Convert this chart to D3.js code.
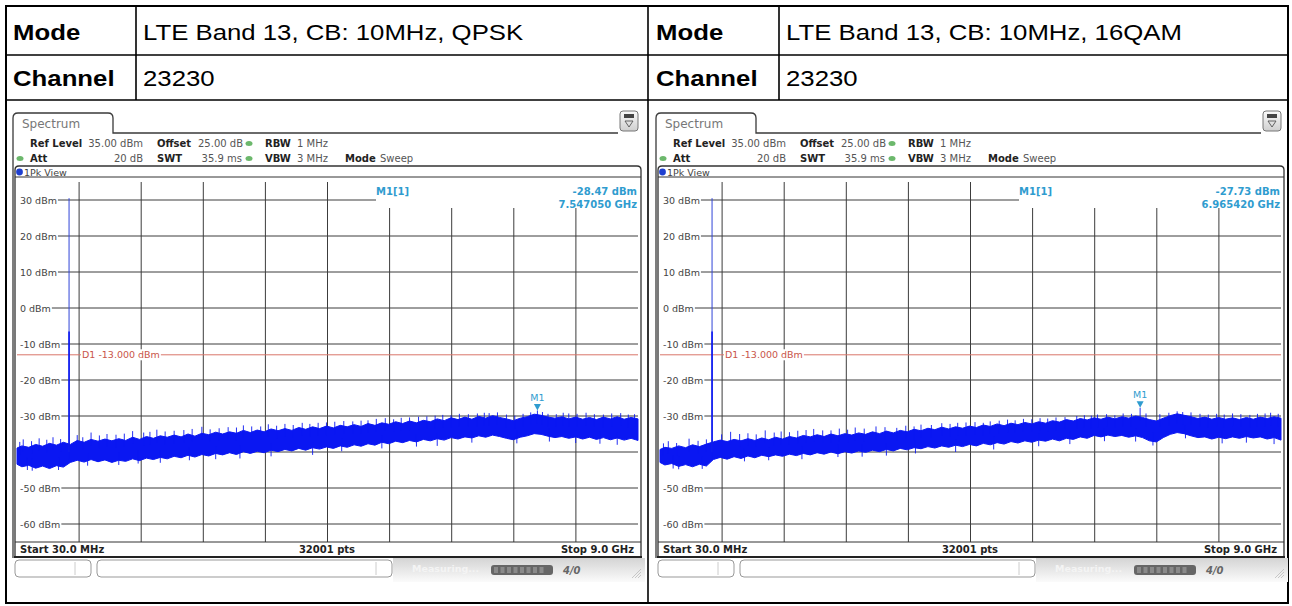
<!DOCTYPE html>
<html>
<head>
<meta charset="utf-8">
<script src="https://cdn.jsdelivr.net/npm/d3@7"></script>
<style>
body { margin: 0; background: #fff; }
svg { display: block; }
</style>
</head>
<body>
<div class="chart"></div>
<script>
const w = 1292;
const h = 606;

// table text
const rowLabels = ["Mode", "Channel"];
const leftValues = ["LTE Band 13, CB: 10MHz, QPSK", "23230"];
const rightValues = ["LTE Band 13, CB: 10MHz, 16QAM", "23230"];

// axis
const yTicks = [30, 20, 10, 0, -10, -20, -30, -40, -50, -60];
const limitLine = -13;

// trace envelope (GHz / dBm)
const freqs = [0.03, 0.1, 0.2, 0.3, 0.4, 0.5, 0.6, 0.7, 0.8, 0.9, 1.0, 1.1, 1.2, 1.3, 1.4, 1.5,
  1.6, 1.7, 1.8, 1.9, 2.0, 2.1, 2.2, 2.3, 2.4, 2.5, 2.6, 2.7, 2.8, 2.9, 3.0, 3.1, 3.2, 3.3, 3.4,
  3.5, 3.6, 3.7, 3.8, 3.9, 4.0, 4.1, 4.2, 4.3, 4.4, 4.5, 4.6, 4.7, 4.8, 4.9, 5.0, 5.1, 5.2, 5.3,
  5.4, 5.5, 5.6, 5.7, 5.8, 5.9, 6.0, 6.1, 6.2, 6.3, 6.4, 6.5, 6.6, 6.7, 6.8, 6.9, 7.0, 7.1, 7.2,
  7.3, 7.4, 7.5, 7.6, 7.7, 7.8, 7.9, 8.0, 8.1, 8.2, 8.3, 8.4, 8.5, 8.6, 8.7, 8.8, 8.9, 9.0];

const qpskUpper = [-38.9, -38.3, -38.7, -37.9, -38.4, -37.6, -38.1, -37.3, -37.9, -36.8, -37.3,
  -36.5, -37.0, -36.4, -36.9, -36.3, -36.8, -35.9, -36.5, -35.7, -36.2, -35.5, -35.9, -35.3,
  -35.8, -35.0, -35.6, -34.8, -35.2, -34.5, -35.0, -34.4, -34.8, -34.0, -34.6, -33.9, -34.4,
  -33.6, -34.1, -33.5, -34.0, -33.2, -33.7, -33.0, -33.5, -32.8, -33.3, -32.6, -33.0, -32.4,
  -32.9, -32.1, -32.6, -31.9, -32.3, -31.6, -32.1, -31.4, -31.9, -31.2, -31.6, -30.8, -31.3,
  -30.5, -31.0, -30.3, -30.9, -30.1, -30.6, -29.9, -30.4, -30.8, -31.3, -30.6, -30.2, -29.5,
  -29.8, -30.3, -30.6, -30.2, -30.8, -30.3, -30.9, -30.4, -31.0, -30.3, -30.8, -30.2, -30.9,
  -30.4, -30.8];
const qpskLower = [-43.4, -44.1, -43.7, -44.5, -43.9, -44.6, -43.8, -44.2, -42.9, -42.3, -42.8,
  -42.1, -42.7, -42.2, -42.9, -42.3, -42.6, -41.9, -42.4, -41.7, -42.1, -41.5, -41.9, -41.2,
  -41.6, -40.9, -41.4, -40.7, -41.1, -40.4, -40.8, -40.2, -40.7, -39.9, -40.4, -39.8, -40.2,
  -39.5, -39.9, -39.3, -39.7, -39.0, -39.5, -38.8, -39.2, -38.6, -39.0, -38.3, -38.7, -38.0,
  -38.4, -37.7, -38.1, -37.3, -37.7, -37.0, -37.4, -36.8, -37.2, -36.5, -36.9, -36.3, -36.7,
  -36.0, -36.4, -35.8, -36.1, -35.5, -35.9, -35.3, -35.7, -36.2, -36.6, -35.9, -35.5, -34.9,
  -35.1, -35.6, -36.0, -35.7, -36.2, -35.8, -36.4, -35.9, -36.5, -36.0, -36.6, -36.1, -36.7,
  -36.2, -36.8];
const qpskSpikesUp = [[0.07, -37.2], [0.12, -36.5], [0.24, -37.0], [0.35, -36.2], [0.46, -36.6],
  [0.55, -35.9], [0.66, -36.4], [0.9, -35.3], [0.98, -35.9], [1.1, -34.6], [1.22, -35.4],
  [1.33, -35.0], [1.46, -35.2], [1.58, -34.9], [1.7, -34.2], [1.86, -34.6], [1.95, -34.4],
  [2.05, -33.8], [2.17, -34.3], [2.3, -34.1], [2.44, -33.9], [2.56, -33.6], [2.7, -33.0],
  [2.82, -33.7], [2.95, -33.4], [3.08, -33.1], [3.2, -33.2], [3.3, -32.6], [3.42, -32.9],
  [3.55, -32.9], [3.66, -32.3], [3.78, -32.7], [3.9, -32.2], [4.02, -32.5], [4.15, -31.9],
  [4.26, -32.2], [4.38, -31.9], [4.5, -31.8], [4.62, -31.6], [4.75, -31.4], [4.88, -31.5],
  [5.0, -31.3], [5.1, -31.2], [5.22, -30.8], [5.35, -30.6], [5.47, -30.9], [5.58, -30.5],
  [5.7, -30.4], [5.83, -30.2], [5.95, -30.1], [6.07, -29.9], [6.18, -29.7], [6.3, -29.8],
  [6.42, -29.4], [6.55, -29.5], [6.68, -29.3], [6.78, -29.1], [6.85, -29.2], [6.97, -29.0],
  [7.1, -29.6], [7.22, -29.9], [7.34, -29.4], [7.45, -29.0], [7.547, -28.47], [7.62, -28.9],
  [7.7, -29.4], [7.82, -29.5], [7.92, -29.1], [8.0, -29.3], [8.12, -29.4], [8.25, -29.1],
  [8.37, -29.5], [8.5, -29.6], [8.62, -29.3], [8.75, -29.2], [8.86, -29.6], [8.95, -29.5]];
const qpskSpikesDown = [[0.18, -45.0], [0.25, -45.2], [0.63, -45.0], [1.05, -43.8], [1.5, -43.6],
  [1.78, -43.2], [2.1, -43.0], [2.52, -42.3], [2.9, -42.0], [3.25, -41.8], [3.7, -41.2],
  [4.3, -40.8], [4.72, -39.8], [5.3, -39.0], [5.8, -38.5], [6.1, -38.3], [6.6, -37.4],
  [7.25, -37.6], [7.72, -37.1], [8.1, -37.5], [8.45, -37.7], [8.7, -38.0]];

const qamUpper = [-39.3, -38.7, -39.0, -38.3, -38.8, -38.0, -38.5, -37.8, -37.2, -36.7, -37.1,
  -36.5, -36.9, -36.3, -36.8, -36.1, -36.6, -35.9, -36.4, -35.7, -36.1, -35.4, -35.8, -35.2,
  -35.7, -35.0, -35.5, -34.9, -35.3, -34.7, -35.1, -34.4, -34.9, -34.2, -34.7, -34.0, -34.4,
  -33.7, -34.1, -33.4, -33.8, -33.1, -33.6, -33.0, -33.4, -32.8, -33.2, -32.5, -32.9, -32.2,
  -32.7, -32.0, -32.4, -31.8, -32.2, -31.6, -32.0, -31.3, -31.7, -31.0, -31.4, -30.7, -31.1,
  -30.5, -30.9, -30.3, -30.8, -30.2, -30.6, -30.0, -30.4, -31.0, -31.4, -30.6, -29.9, -29.4,
  -29.8, -30.2, -30.7, -30.3, -30.9, -30.4, -30.9, -30.5, -31.0, -30.4, -30.9, -30.3, -30.7,
  -30.2, -30.6];
const qamLower = [-42.9, -43.6, -43.2, -44.0, -43.5, -44.1, -43.4, -43.9, -42.1, -41.5, -42.0,
  -41.3, -41.8, -41.1, -41.6, -40.9, -41.3, -40.8, -41.2, -40.6, -41.0, -40.4, -40.8, -40.2,
  -40.6, -40.0, -40.5, -39.9, -40.3, -39.7, -40.1, -39.5, -39.9, -39.3, -39.7, -39.0, -39.4,
  -38.8, -39.1, -38.5, -38.9, -38.3, -38.7, -38.1, -38.5, -37.9, -38.3, -37.6, -38.0, -37.4,
  -37.8, -37.1, -37.5, -36.9, -37.3, -36.7, -37.0, -36.4, -36.9, -36.2, -36.5, -35.8, -36.2,
  -35.4, -35.8, -35.3, -35.7, -35.4, -35.9, -35.5, -36.0, -36.9, -37.2, -36.0, -35.1, -34.6,
  -34.9, -35.5, -36.0, -35.8, -36.4, -35.9, -36.3, -35.8, -36.2, -35.7, -36.1, -35.8, -36.4,
  -36.0, -36.7];
const qamSpikesUp = [[0.08, -37.6], [0.15, -37.0], [0.27, -37.5], [0.45, -36.3], [0.58, -36.9],
  [0.7, -36.5], [0.92, -35.1], [1.05, -34.4], [1.18, -35.0], [1.3, -34.8], [1.42, -35.1],
  [1.55, -34.0], [1.68, -34.6], [1.78, -34.3], [1.9, -34.5], [2.02, -34.1], [2.14, -33.9],
  [2.25, -33.6], [2.38, -34.0], [2.5, -34.0], [2.62, -33.5], [2.74, -33.8], [2.85, -33.2],
  [2.98, -33.5], [3.15, -32.9], [3.28, -33.1], [3.45, -33.3], [3.58, -32.7], [3.7, -32.9],
  [3.8, -32.4], [3.95, -32.5], [4.1, -32.0], [4.22, -32.2], [4.33, -31.9], [4.45, -31.8],
  [4.58, -31.7], [4.7, -31.9], [4.8, -31.5], [4.93, -31.3], [5.05, -31.0], [5.16, -31.2],
  [5.28, -30.8], [5.4, -30.9], [5.52, -30.6], [5.63, -30.7], [5.75, -30.4], [5.88, -30.3],
  [6.05, -30.0], [6.16, -29.8], [6.26, -29.9], [6.35, -29.6], [6.48, -29.5], [6.6, -29.8],
  [6.72, -29.3], [6.84, -29.4], [6.965, -27.73], [7.05, -29.3], [7.25, -29.5], [7.38, -29.1],
  [7.5, -28.7], [7.58, -28.9], [7.7, -29.0], [7.83, -29.4], [7.95, -29.6], [8.07, -29.4],
  [8.18, -29.6], [8.3, -29.3], [8.42, -29.5], [8.55, -29.7], [8.66, -29.4], [8.77, -29.3],
  [8.85, -29.1], [8.96, -29.4]];
const qamSpikesDown = [[0.22, -44.6], [0.3, -44.8], [0.64, -44.7], [1.25, -42.6], [1.6, -42.3],
  [2.08, -42.0], [2.6, -41.4], [2.95, -41.3], [3.3, -41.0], [3.72, -40.4], [4.3, -40.0],
  [4.85, -39.3], [5.5, -38.4], [5.95, -37.8], [6.45, -37.0], [6.9, -37.1], [7.15, -38.2],
  [7.62, -36.2], [8.15, -37.6], [8.5, -37.4], [8.9, -37.8]];

// carrier (GHz, peak dBm, solid part top dBm)
const carrier = [0.782, 30.5, -6.5];

// markers [GHz, dBm]
const qpskMarker = [7.54705, -28.47];
const qamMarker = [6.96542, -27.73];

const teal = "#2f9ccf";
const traceBlue = "#0a17f2";
const screenFont = "DejaVu Sans, Verdana, sans-serif";
const docFont = "Liberation Sans, Arial, sans-serif";

const svg = d3.select(".chart")
  .append("svg")
  .attr("width", w)
  .attr("height", h);

const defs = svg.append("defs");
const sb = defs.append("linearGradient").attr("id", "statusbg")
  .attr("x1", 0).attr("y1", 0).attr("x2", 0).attr("y2", 1);
sb.append("stop").attr("offset", "0%").attr("stop-color", "#d4d4d4");
sb.append("stop").attr("offset", "100%").attr("stop-color", "#fbfbfb");
const ib = defs.append("linearGradient").attr("id", "iconbg")
  .attr("x1", 0).attr("y1", 0).attr("x2", 0).attr("y2", 1);
ib.append("stop").attr("offset", "0%").attr("stop-color", "#fafafa");
ib.append("stop").attr("offset", "100%").attr("stop-color", "#cfcfcf");

// ---- table ----
const table = svg.append("g");
const rowY = [39.5, 85.5];
[[0, leftValues], [643, rightValues]].forEach(([ox, vals]) => {
  rowLabels.forEach((lab, i) => {
    table.append("text")
      .attr("transform", `translate(${ox + 13},${rowY[i]}) scale(1.12,1)`)
      .attr("font-family", docFont)
      .attr("font-size", 23).attr("font-weight", "bold")
      .text(lab);
    table.append("text")
      .attr("transform", `translate(${ox + 143},${rowY[i]}) scale(1.12,1)`)
      .attr("font-family", docFont)
      .attr("font-size", 23)
      .text(vals[i]);
  });
});

table.append("rect").attr("x", 6).attr("y", 6).attr("width", 1282).attr("height", 597)
  .attr("fill", "none").attr("stroke", "#000").attr("stroke-width", 2);
[[136, 6, 100], [648, 6, 603], [779, 6, 100]].forEach(([lx, a, b]) => {
  table.append("line").attr("x1", lx).attr("x2", lx).attr("y1", a).attr("y2", b)
    .attr("stroke", "#000").attr("stroke-width", 1.6);
});
[55, 100].forEach(ly => {
  table.append("line").attr("x1", 6).attr("x2", 1288).attr("y1", ly).attr("y2", ly)
    .attr("stroke", "#000").attr("stroke-width", 1.6);
});

// ---- spectrum screens ----
function drawSpectrum(ox, upper, lower, spikesUp, spikesDown, marker) {
  const g = svg.append("g").attr("transform", `translate(${ox},0)`);
  const x = d3.scaleLinear().domain([0.03, 9.0]).range([17, 638]);
  const y = d3.scaleLinear().domain([-65, 35]).range([542, 182]);
  const xd = d3.scaleLinear().domain([0, 10]).range([17, 638]);

  // outer frame + tab
  g.append("path")
    .attr("d", "M13,558 V118 Q13,113 18,113 H108 Q113,113 113,118 V133 H618")
    .attr("fill", "none").attr("stroke", "#3a3a3a").attr("stroke-width", 1.3);
  g.append("text").attr("x", 22).attr("y", 128)
    .attr("font-family", screenFont).attr("font-size", 12).attr("fill", "#777")
    .text("Spectrum");

  // icon top right
  g.append("rect").attr("x", 620).attr("y", 111).attr("width", 18).attr("height", 20).attr("rx", 3)
    .attr("fill", "url(#iconbg)").attr("stroke", "#777");
  g.append("rect").attr("x", 624).attr("y", 114).attr("width", 10).attr("height", 4)
    .attr("fill", "#444");
  g.append("path").attr("d", "M625,121 L633,121 L629,127 Z")
    .attr("fill", "none").attr("stroke", "#555").attr("stroke-width", 0.9);

  // header settings
  const hdr = [
    [30, 147, "Ref Level", true, "start"], [143, 147, "35.00 dBm", false, "end"],
    [157, 147, "Offset", true, "start"], [243, 147, "25.00 dB", false, "end"],
    [265, 147, "RBW", true, "start"], [297, 147, "1 MHz", false, "start"],
    [30, 162, "Att", true, "start"], [143, 162, "20 dB", false, "end"],
    [157, 162, "SWT", true, "start"], [242, 162, "35.9 ms", false, "end"],
    [265, 162, "VBW", true, "start"], [297, 162, "3 MHz", false, "start"],
    [345, 162, "Mode", true, "start"], [380, 162, "Sweep", false, "start"]
  ];
  hdr.forEach(([tx, ty, t, b, anchor]) => {
    g.append("text").attr("x", tx).attr("y", ty)
      .attr("font-family", screenFont).attr("font-size", 10)
      .attr("font-weight", b ? "bold" : "normal")
      .attr("fill", b ? "#222" : "#555")
      .attr("text-anchor", anchor)
      .text(t);
  });
  [[249, 143.5], [20, 158.5], [249, 158.5]].forEach(([cx, cy]) => {
    g.append("ellipse").attr("cx", cx).attr("cy", cy).attr("rx", 3.5).attr("ry", 2.5)
      .attr("fill", "#6cb86c");
  });

  // view frame
  g.append("path")
    .attr("d", "M15,557 V170 Q15,166 19,166 H637 Q641,166 641,170 V557 Z")
    .attr("fill", "#fff").attr("stroke", "#333").attr("stroke-width", 1.3);
  g.append("line").attr("x1", 15).attr("x2", 641).attr("y1", 177).attr("y2", 177)
    .attr("stroke", "#333").attr("stroke-width", 1);
  g.append("circle").attr("cx", 19.5).attr("cy", 172).attr("r", 3.4).attr("fill", "#1f3fd0");
  g.append("text").attr("x", 24).attr("y", 175.5)
    .attr("font-family", screenFont).attr("font-size", 9.5).attr("fill", "#444")
    .text("1Pk View");

  // grid
  const grid = g.append("g").attr("stroke", "#3c3c3c").attr("stroke-width", 1);
  d3.range(1, 10).forEach(i => {
    const gx = xd(i);
    grid.append("line").attr("x1", gx).attr("x2", gx)
      .attr("y1", gx > 376 ? 208 : 182).attr("y2", 542);
  });
  yTicks.forEach(v => {
    grid.append("line").attr("x1", 17).attr("x2", v === 30 ? 376 : 638)
      .attr("y1", y(v)).attr("y2", y(v));
  });
  g.append("line").attr("x1", 15).attr("x2", 641).attr("y1", 542).attr("y2", 542)
    .attr("stroke", "#333").attr("stroke-width", 1);

  // limit line
  g.append("line").attr("x1", 17).attr("x2", 638).attr("y1", y(limitLine)).attr("y2", y(limitLine))
    .attr("stroke", "#d9756a").attr("stroke-width", 1);

  function bgText(tx, ty, t, color, left) {
    const el = g.append("text").attr("x", tx).attr("y", ty)
      .attr("font-family", screenFont).attr("font-size", 9.5).attr("fill", color)
      .text(t);
    const bb = el.node().getBBox();
    const x0 = left !== undefined ? left : bb.x - 1;
    g.insert("rect", () => el.node())
      .attr("x", x0).attr("y", bb.y).attr("width", bb.x + bb.width + 1 - x0).attr("height", bb.height)
      .attr("fill", "#fff");
  }
  yTicks.forEach(v => bgText(20, y(v) + 3.5, v + " dBm", "#444", 16));
  bgText(82, y(limitLine) + 3.5, "D1  -13.000 dBm", "#c9554a");

  // trace
  const area = d3.area()
    .x((d, i) => x(freqs[i]))
    .y0((d, i) => y(lower[i]))
    .y1((d, i) => y(upper[i]));
  g.append("path").datum(upper).attr("d", area)
    .attr("fill", traceBlue).attr("stroke", traceBlue).attr("stroke-width", 1)
    .attr("stroke-linejoin", "miter");
  g.selectAll(".spu").data(spikesUp).enter().append("line")
    .attr("x1", d => x(d[0])).attr("x2", d => x(d[0]))
    .attr("y1", d => y(d[1] - 3.5)).attr("y2", d => y(d[1]))
    .attr("stroke", traceBlue).attr("stroke-width", 0.9);
  g.selectAll(".spd").data(spikesDown).enter().append("line")
    .attr("x1", d => x(d[0])).attr("x2", d => x(d[0]))
    .attr("y1", d => y(d[1] + 3.5)).attr("y2", d => y(d[1]))
    .attr("stroke", traceBlue).attr("stroke-width", 0.9);
  g.append("line").attr("x1", x(carrier[0])).attr("x2", x(carrier[0]))
    .attr("y1", y(-40)).attr("y2", y(carrier[1]))
    .attr("stroke", "#3044d8").attr("stroke-width", 1);
  g.append("line").attr("x1", x(carrier[0])).attr("x2", x(carrier[0]))
    .attr("y1", y(-42)).attr("y2", y(carrier[2]))
    .attr("stroke", traceBlue).attr("stroke-width", 1.6);

  // marker
  const mx = x(marker[0]), my = y(marker[1]);
  g.append("path").attr("d", `M${mx - 3.5},${my - 6.5} L${mx + 3.5},${my - 6.5} L${mx},${my} Z`)
    .attr("fill", teal);
  g.append("text").attr("x", mx).attr("y", my - 9.5).attr("text-anchor", "middle")
    .attr("font-family", screenFont).attr("font-size", 9.5).attr("fill", teal)
    .text("M1");

  // marker readout
  g.append("rect").attr("x", 377).attr("y", 182).attr("width", 261).attr("height", 25).attr("fill", "#fff");
  const ro = [[376, 195, "M1[1]", "start"],
    [637, 195, marker[1].toFixed(2) + " dBm", "end"],
    [637, 208, marker[0].toFixed(6) + " GHz", "end"]];
  ro.forEach(([tx, ty, t, a]) => {
    g.append("text").attr("x", tx).attr("y", ty).attr("text-anchor", a)
      .attr("font-family", screenFont).attr("font-size", 10).attr("font-weight", "bold")
      .attr("fill", teal).text(t);
  });

  // footer
  [[20, "Start 30.0 MHz", "start"], [327, "32001 pts", "middle"], [634, "Stop 9.0 GHz", "end"]]
    .forEach(([tx, t, a]) => {
      g.append("text").attr("x", tx).attr("y", 553).attr("text-anchor", a)
        .attr("font-family", screenFont).attr("font-size", 10).attr("font-weight", "bold")
        .attr("fill", "#222").text(t);
    });
  g.append("line").attr("x1", 14).attr("x2", 642).attr("y1", 557).attr("y2", 557)
    .attr("stroke", "#222").attr("stroke-width", 2);

  // status bar
  g.append("rect").attr("x", 393).attr("y", 558).attr("width", 252).attr("height", 24)
    .attr("fill", "url(#statusbg)");
  [[15, 76, 75], [97, 295, 376]].forEach(([bx, bw, dx]) => {
    g.append("rect").attr("x", bx).attr("y", 560).attr("width", bw).attr("height", 17).attr("rx", 4)
      .attr("fill", "#fff").attr("stroke", "#999").attr("stroke-width", 1);
    g.append("line").attr("x1", dx).attr("x2", dx).attr("y1", 562).attr("y2", 575)
      .attr("stroke", "#ccc");
  });
  g.append("text").attr("x", 412).attr("y", 572)
    .attr("font-family", screenFont).attr("font-size", 9.5).attr("font-weight", "bold")
    .attr("fill", "#f4f4f4").text("Measuring...");
  g.append("rect").attr("x", 491).attr("y", 565).attr("width", 62).attr("height", 10).attr("rx", 3)
    .attr("fill", "#666");
  d3.range(0, 8).forEach(i => {
    g.append("rect").attr("x", 494 + i * 6.5).attr("y", 567).attr("width", 4).attr("height", 6)
      .attr("fill", "#8a8a8a");
  });
  g.append("text").attr("x", 563).attr("y", 574)
    .attr("font-family", screenFont).attr("font-size", 10).attr("font-weight", "bold")
    .attr("font-style", "italic").attr("fill", "#666").text("4/0");
  [0, 3, 6].forEach(k => {
    g.append("line").attr("x1", 632 + k).attr("y1", 578).attr("x2", 641).attr("y2", 569 + k)
      .attr("stroke", "#bbb").attr("stroke-width", 0.8);
  });
}

drawSpectrum(0, qpskUpper, qpskLower, qpskSpikesUp, qpskSpikesDown, qpskMarker);
drawSpectrum(643, qamUpper, qamLower, qamSpikesUp, qamSpikesDown, qamMarker);
</script>
</body>
</html>
